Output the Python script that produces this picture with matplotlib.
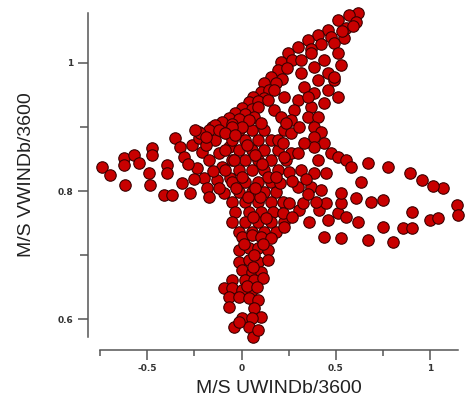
import numpy as np
import matplotlib
matplotlib.use('Agg')
import matplotlib.pyplot as plt

# wind components (m/s), grouped by part of the cloud
left_arm = [(-0.737, 0.838), (-0.695, 0.825), (-0.621, 0.852), (-0.621, 0.841), (-0.568, 0.856),
            (-0.542, 0.844), (-0.616, 0.809), (-0.474, 0.867), (-0.474, 0.856), (-0.489, 0.828),
            (-0.484, 0.809), (-0.395, 0.841), (-0.395, 0.828), (-0.411, 0.794), (-0.368, 0.794),
            (-0.353, 0.883), (-0.326, 0.869), (-0.305, 0.853), (-0.316, 0.813), (-0.274, 0.797),
            (-0.263, 0.872), (-0.226, 0.892), (-0.226, 0.883), (-0.211, 0.861), (-0.237, 0.836),
            (-0.200, 0.820), (-0.174, 0.848), (-0.184, 0.805), (-0.174, 0.791), (-0.158, 0.900),
            (-0.142, 0.880), (-0.121, 0.859), (-0.132, 0.817), (-0.105, 0.838), (-0.095, 0.797),
            (-0.079, 0.891), (-0.068, 0.869), (-0.053, 0.848), (-0.063, 0.820),
            (-0.285, 0.842), (-0.250, 0.818), (-0.150, 0.832), (-0.120, 0.805), (-0.190, 0.872)]

core = [(-0.016, 0.895), (0.053, 0.895), (0.121, 0.895),
        (-0.053, 0.880), (0.016, 0.880), (0.089, 0.880), (0.158, 0.880),
        (-0.089, 0.864), (-0.016, 0.864), (0.053, 0.864), (0.121, 0.864), (0.195, 0.864),
        (0.016, 0.848), (0.089, 0.848), (0.158, 0.848), (0.237, 0.848),
        (-0.089, 0.833), (-0.016, 0.833), (0.053, 0.833), (0.121, 0.833), (0.195, 0.833),
        (-0.053, 0.814), (0.016, 0.814), (0.089, 0.814), (0.158, 0.814),
        (-0.016, 0.798), (0.053, 0.798), (0.121, 0.798), (0.184, 0.798),
        (-0.053, 0.783), (0.016, 0.783), (0.089, 0.783), (0.158, 0.783), (0.221, 0.783),
        (-0.037, 0.767), (0.037, 0.767), (0.105, 0.767), (0.168, 0.767),
        (-0.053, 0.752), (0.016, 0.752), (0.089, 0.752), (0.158, 0.752), (0.226, 0.752),
        (-0.016, 0.736), (0.053, 0.736), (0.121, 0.736), (0.184, 0.736), (0.195, 0.880),
        (0.070, 0.856), (0.140, 0.822), (0.000, 0.822), (0.100, 0.790), (0.035, 0.790),
        (0.130, 0.758), (0.060, 0.760), (0.205, 0.812), (0.260, 0.860), (0.030, 0.872),
        (-0.040, 0.848), (0.110, 0.842), (0.180, 0.822), (0.070, 0.805), (-0.030, 0.805)]

lower_column = [(0.000, 0.728), (0.053, 0.731), (0.105, 0.728), (0.158, 0.727), (-0.016, 0.708),
                (0.037, 0.711), (0.089, 0.711), (0.142, 0.708), (-0.016, 0.689), (0.037, 0.692),
                (0.089, 0.689), (0.142, 0.692), (0.000, 0.677), (0.053, 0.673), (0.105, 0.673),
                (0.016, 0.661), (0.068, 0.661), (0.116, 0.664), (-0.053, 0.661), (-0.095, 0.648),
                (-0.053, 0.648), (0.000, 0.645), (0.053, 0.645), (-0.068, 0.634), (-0.016, 0.634),
                (0.042, 0.633), (0.089, 0.630), (-0.068, 0.619), (0.068, 0.617), (0.105, 0.603),
                (0.000, 0.602), (0.053, 0.602), (-0.042, 0.588), (0.042, 0.588), (-0.011, 0.595),
                (0.063, 0.572), (0.089, 0.583), (0.065, 0.700), (0.115, 0.718), (0.012, 0.718),
                (0.060, 0.682), (0.028, 0.652), (0.080, 0.650)]

upper_band = [(0.616, 1.078), (0.568, 1.075), (0.511, 1.067), (0.458, 1.052), (0.405, 1.044),
              (0.353, 1.036), (0.300, 1.025), (0.247, 1.016), (0.211, 1.002), (0.195, 0.989),
              (0.158, 0.978), (0.121, 0.969), (0.105, 0.955), (0.063, 0.947), (0.037, 0.939),
              (0.000, 0.930), (-0.037, 0.922), (-0.068, 0.914), (-0.105, 0.908), (-0.142, 0.903),
              (-0.174, 0.895), (-0.221, 0.891), (-0.247, 0.895), (0.553, 1.055), (0.605, 1.064),
              (0.542, 1.039), (0.590, 1.058), (0.530, 1.050), (0.475, 1.040), (0.420, 1.030),
              (0.370, 1.022), (0.270, 1.005), (0.240, 0.992), (0.215, 0.975), (0.180, 0.968),
              (0.145, 0.958), (0.120, 0.945), (0.085, 0.940), (0.055, 0.928), (0.020, 0.920),
              (-0.015, 0.912), (-0.050, 0.905), (-0.120, 0.895), (-0.190, 0.885)]

upper_inner = [(0.316, 1.005), (0.316, 0.984), (0.332, 0.963), (0.300, 0.942), (0.279, 0.927),
               (0.263, 0.911), (0.226, 0.895), (0.368, 1.016), (0.384, 0.994), (0.405, 0.973),
               (0.384, 0.953), (0.368, 0.931), (0.353, 0.916), (0.437, 1.005), (0.458, 0.984),
               (0.458, 0.958), (0.437, 0.938), (0.405, 0.916), (0.384, 0.900), (0.489, 1.031),
               (0.511, 1.016), (0.489, 0.973), (0.511, 0.947),
               (0.142, 0.942), (0.174, 0.927), (0.211, 0.916), (0.089, 0.931), (0.068, 0.916),
               (0.105, 0.906), (0.037, 0.911), (0.000, 0.900), (-0.053, 0.900), (-0.089, 0.891),
               (-0.037, 0.888), (0.174, 0.958), (0.226, 0.947)]

right_arm = [(0.526, 0.997), (0.489, 0.978), (0.421, 0.892), (0.437, 0.875), (0.474, 0.859),
             (0.511, 0.853), (0.553, 0.848), (0.579, 0.838), (0.668, 0.844), (0.774, 0.838),
             (0.895, 0.828), (0.958, 0.817), (1.068, 0.805), (0.632, 0.814), (0.353, 0.947),
             (0.384, 0.884), (0.384, 0.869), (0.405, 0.848), (0.332, 0.875), (0.300, 0.859),
             (0.253, 0.830), (0.316, 0.833), (0.384, 0.828), (0.447, 0.828), (0.300, 0.806),
             (0.368, 0.806), (0.421, 0.802), (0.226, 0.853), (0.221, 0.875), (0.263, 0.891),
             (0.305, 0.900), (0.237, 0.906),
             (0.221, 0.766), (0.226, 0.744), (0.305, 0.770), (0.358, 0.752), (0.411, 0.770),
             (0.458, 0.755), (0.511, 0.766), (0.553, 0.759), (0.616, 0.752), (0.437, 0.728),
             (0.526, 0.727), (0.668, 0.723), (0.747, 0.744), (0.800, 0.720), (0.858, 0.742),
             (0.905, 0.742), (0.905, 0.767), (1.000, 0.755), (1.042, 0.758), (1.142, 0.778),
             (1.147, 0.763), (0.747, 0.786), (0.684, 0.783), (0.526, 0.781), (0.447, 0.781),
             (0.395, 0.783), (0.326, 0.781), (0.253, 0.781), (0.526, 0.797), (0.605, 0.789),
             (1.016, 0.808), (0.270, 0.815), (0.340, 0.818), (0.270, 0.760), (0.350, 0.795)]

pts = np.array(left_arm + core + lower_column + upper_band + upper_inner + right_arm)
u = pts[:, 0]
v = pts[:, 1]

axis_col = '#555555'

fig = plt.figure(figsize=(4.71, 4.05), dpi=100)
ax = fig.add_axes([100/471, 68/405, 358/471, 324/405])

ax.scatter(u, v, s=68, c='#c80000', edgecolors='#3a0000', linewidths=0.8, clip_on=False, zorder=3)

ax.set_xlim(-0.737, 1.147)
ax.set_ylim(0.572, 1.078)

for side in ['top', 'right']:
    ax.spines[side].set_visible(False)
for side in ['left', 'bottom']:
    ax.spines[side].set_position(('outward', 9))
    ax.spines[side].set_color(axis_col)
    ax.spines[side].set_linewidth(1.1)

ax.set_xticks([-0.5, 0, 0.5, 1])
ax.set_xticklabels(['-0.5', '0', '0.5', '1'])
ax.set_xticks([-0.75, -0.25, 0.25, 0.75], minor=True)
ax.set_yticks([0.6, 0.8, 1.0])
ax.set_yticklabels(['0.6', '0.8', '1'])
ax.set_yticks([0.7, 0.9], minor=True)

ax.tick_params(which='major', length=7.5, width=1.1, color=axis_col, labelsize=6.5, pad=3)
ax.tick_params(which='minor', length=4, width=1.1, color=axis_col)
ax.tick_params(axis='y', which='minor', length=6)
for lab in ax.get_xticklabels() + ax.get_yticklabels():
    lab.set_fontweight('bold')
    lab.set_color('#333333')

ax.set_xlabel('M/S UWINDb/3600', fontsize=14, family='Liberation Sans', color='#222222', labelpad=5)
ax.set_ylabel('M/S VWINDb/3600', fontsize=14, family='Liberation Sans', color='#222222', labelpad=16)

fig.savefig('out.png', dpi=100)
